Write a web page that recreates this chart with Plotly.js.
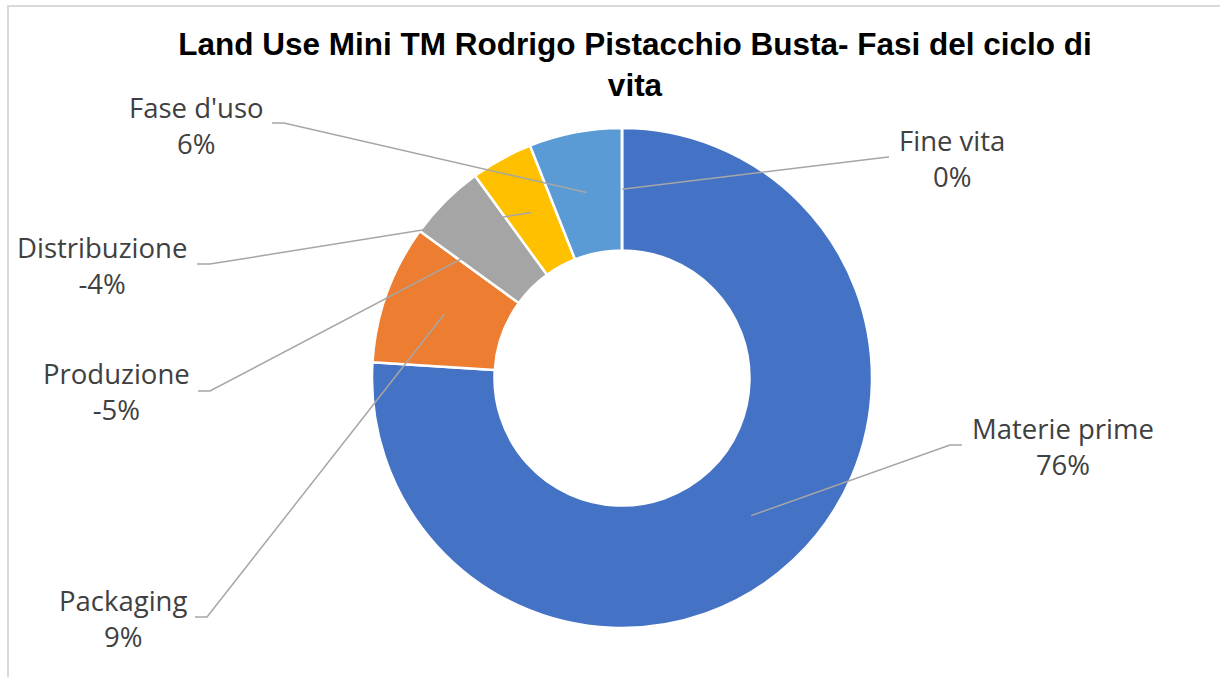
<!DOCTYPE html>
<html>
<head>
<meta charset="utf-8">
<script src="https://cdn.plot.ly/plotly-3.0.1.min.js"></script>
<style>html,body{margin:0;padding:0;background:#fff;}#chart{width:1220px;height:677px;}</style>
</head>
<body>
<div id="chart"></div>
<script>
// ---- data ----
var phases = ["Materie prime", "Packaging", "Produzione", "Distribuzione", "Fase d'uso", "Fine vita"];
var shares = [76, 9, -5, -4, 6, 0];           // percent, as labelled
var colors = ["#4472C4", "#ED7D31", "#A5A5A5", "#FFC000", "#5B9BD5", "#70AD47"];
var titleText = "Land Use Mini TM Rodrigo Pistacchio Busta- Fasi del ciclo di<br>vita";

// ---- layout constants (pixels) ----
var W = 1220, H = 677;
var CX = 622, CY = 378, R = 250, HOLE = 0.51;
// label text centre, and leader end / elbow points
var labelPos = [
  {tx: 1063, ty: 446, end: [962, 445], elbow: [950, 445]},
  {tx: 123,  ty: 618, end: [195, 617], elbow: [207, 617]},
  {tx: 116,  ty: 391, end: [198, 391], elbow: [210, 391]},
  {tx: 102,  ty: 265, end: [197, 264], elbow: [210, 264]},
  {tx: 196,  ty: 125, end: [272, 123], elbow: [284, 123]},
  {tx: 952,  ty: 158, end: [889, 157], elbow: [880, 158]}
];

function px(x) { return x / W; }
function py(y) { return 1 - y / H; }

var sizes = shares.map(function (v) { return Math.abs(v); });
var total = sizes.reduce(function (a, b) { return a + b; }, 0);

var shapes = [{
  type: 'rect', xref: 'paper', yref: 'paper',
  x0: px(8), x1: px(1240), y0: py(700), y1: py(6),
  line: {color: '#D9D9D9', width: 2}, fillcolor: 'rgba(0,0,0,0)', layer: 'above'
}];
var annotations = [];
var cum = 0;
var rMid = R * (1 + HOLE) / 2;
for (var i = 0; i < phases.length; i++) {
  var mid = (cum + sizes[i] / 2) / total * 2 * Math.PI;   // clockwise from 12 o'clock
  cum += sizes[i];
  var ax = CX + rMid * Math.sin(mid);
  var ay = CY - rMid * Math.cos(mid);
  var lp = labelPos[i];
  shapes.push({
    type: 'path', xref: 'paper', yref: 'paper',
    path: 'M ' + px(ax) + ' ' + py(ay) + ' L ' + px(lp.elbow[0]) + ' ' + py(lp.elbow[1]) +
          ' L ' + px(lp.end[0]) + ' ' + py(lp.end[1]),
    line: {color: '#A6A6A6', width: 1.5}
  });
  annotations.push({
    xref: 'paper', yref: 'paper', x: px(lp.tx), y: py(lp.ty),
    xanchor: 'center', yanchor: 'middle', showarrow: false, align: 'center',
    text: phases[i] + '<br>' + shares[i] + '%',
    font: {family: 'Open Sans, sans-serif', size: 27.5, color: '#404040'}
  });
}

var trace = {
  type: 'pie',
  labels: phases,
  values: sizes,
  hole: HOLE,
  sort: false,
  direction: 'clockwise',
  rotation: 0,
  textinfo: 'none',
  hoverinfo: 'label',
  marker: {colors: colors, line: {color: '#FFFFFF', width: 2.5}},
  domain: {x: [px(CX - R), px(CX + R)], y: [py(CY + R), py(CY - R)]},
  showlegend: false
};

var layout = {
  width: W, height: H,
  margin: {l: 0, r: 0, t: 0, b: 0},
  paper_bgcolor: '#FFFFFF',
  title: {
    text: titleText,
    x: px(635), xanchor: 'center', xref: 'paper',
    y: py(55), yanchor: 'top', yref: 'paper',
    font: {family: 'Liberation Sans, Arial, sans-serif', size: 31.5, color: '#000000', weight: 'bold'}
  },
  shapes: shapes,
  annotations: annotations,
  showlegend: false
};

Plotly.newPlot('chart', [trace], layout, {displayModeBar: false, staticPlot: true});
</script>
</body>
</html>
